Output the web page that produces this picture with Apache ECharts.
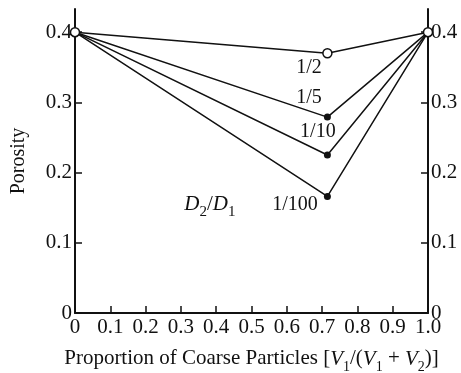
<!DOCTYPE html>
<html><head><meta charset="utf-8">
<script src="https://cdn.jsdelivr.net/npm/echarts@6/dist/echarts.min.js"></script>
<style>html,body{margin:0;padding:0;background:#fff}#c{width:461px;height:373px}</style>
</head><body><div id="c"></div>
<script>
const ratios = ['1/2', '1/5', '1/10', '1/100'];
const xValues = [0, 0.715, 1];
const porosity12 = [0.4, 0.370, 0.4];
const porosity15 = [0.4, 0.279, 0.4];
const porosity110 = [0.4, 0.225, 0.4];
const porosity1100 = [0.4, 0.166, 0.4];
const xTicks = [0, 0.1, 0.2, 0.3, 0.4, 0.5, 0.6, 0.7, 0.8, 0.9, 1.0];
const yTicks = [0, 0.1, 0.2, 0.3, 0.4];
const ratioLabelPos = [[0.663, 0.350], [0.663, 0.306], [0.688, 0.258], [0.623, 0.154]];
const d2d1Pos = [0.382, 0.157];

const FONT = 'Liberation Serif';
const INK = '#111';
const chart = echarts.init(document.getElementById('c'));

function fmt(v) { if (Math.abs(v) < 1e-9) return '0'; return v.toFixed(1); }

const seriesVals = [porosity12, porosity15, porosity110, porosity1100];

const series = [];
for (let s = 1; s < 4; s++) {
  series.push({
    type: 'line', name: ratios[s],
    data: xValues.map((x, i) => ({
      value: [x, seriesVals[s][i]],
      symbol: i === 1 ? 'circle' : 'none'
    })),
    symbolSize: 7,
    itemStyle: { color: INK },
    lineStyle: { color: INK, width: 1.5 },
    z: 3, silent: true, animation: false
  });
}
series.push({
  type: 'line', name: ratios[0],
  data: xValues.map((x, i) => [x, porosity12[i]]),
  symbol: 'circle', symbolSize: 9,
  itemStyle: { color: '#fff', borderColor: INK, borderWidth: 1.5 },
  lineStyle: { color: INK, width: 1.5 },
  z: 5, silent: true, animation: false
});
const noBorder = { textBorderWidth: 0, textBorderColor: 'transparent', opacity: 1 };
series.push({
  type: 'scatter', symbolSize: 0, silent: true, animation: false, z: 6,
  itemStyle: { color: INK, opacity: 1 },
  data: ratios.map((r, i) => ({ value: ratioLabelPos[i], name: r })),
  label: Object.assign({ show: true, position: 'inside', formatter: p => p.name,
    fontFamily: FONT, fontSize: 20, color: INK }, noBorder)
});
series.push({
  type: 'scatter', symbolSize: 0, silent: true, animation: false, z: 6,
  itemStyle: { color: INK, opacity: 1 },
  data: [{ value: d2d1Pos }],
  label: Object.assign({ show: true, position: 'inside',
    formatter: '{i|D}{s|2}{n|/}{i|D}{s|1}',
    rich: {
      i: Object.assign({ fontFamily: FONT, fontSize: 21, fontStyle: 'italic', color: INK, verticalAlign: 'bottom', lineHeight: 24 }, noBorder),
      n: Object.assign({ fontFamily: FONT, fontSize: 21, color: INK, verticalAlign: 'bottom', lineHeight: 24 }, noBorder),
      s: Object.assign({ fontFamily: FONT, fontSize: 15, color: INK, verticalAlign: 'bottom', lineHeight: 24, padding: [0, 0, -5, 0] }, noBorder)
    }
  }, noBorder)
});

const yAxisBase = {
  type: 'value', min: 0, max: 0.433, interval: 0.1,
  axisLine: { show: true, lineStyle: { color: INK, width: 2 } },
  axisTick: { show: true, inside: true, length: 7, lineStyle: { color: INK, width: 1.5 }, customValues: yTicks },
  axisLabel: { show: true, fontFamily: FONT, fontSize: 21, color: INK, margin: 3, formatter: fmt, customValues: yTicks },
  splitLine: { show: false }
};

chart.setOption({
  animation: false,
  backgroundColor: '#fff',
  grid: { left: 75, right: 33, top: 9, bottom: 60, containLabel: false, outerBoundsMode: 'none' },
  xAxis: {
    type: 'value', min: 0, max: 1, interval: 0.1,
    axisLine: { show: true, onZero: false, lineStyle: { color: INK, width: 2 } },
    axisTick: { show: true, inside: true, length: 7, lineStyle: { color: INK, width: 1.5 } },
    axisLabel: { fontFamily: FONT, fontSize: 21, color: INK, margin: 4, formatter: fmt, customValues: xTicks },
    splitLine: { show: false },
    name: 'Proportion of Coarse Particles [{i|V}{s|1}/({i|V}{s|1} + {i|V}{s|2})]',
    nameLocation: 'middle', nameGap: 33,
    nameTextStyle: {
      fontFamily: FONT, fontSize: 21, color: INK,
      rich: {
        i: { fontFamily: FONT, fontSize: 21, fontStyle: 'italic', color: INK, verticalAlign: 'bottom', lineHeight: 24 },
        s: { fontFamily: FONT, fontSize: 14, color: INK, verticalAlign: 'bottom', lineHeight: 24, padding: [0, 0, -4, 0] }
      }
    }
  },
  yAxis: [
    Object.assign({}, yAxisBase, {
      position: 'left',
      name: 'Porosity', nameLocation: 'middle', nameGap: 46,
      nameTextStyle: { fontFamily: FONT, fontSize: 20, color: INK }
    }),
    Object.assign({}, yAxisBase, { position: 'right' })
  ],
  series: series
});
</script>
</body></html>
